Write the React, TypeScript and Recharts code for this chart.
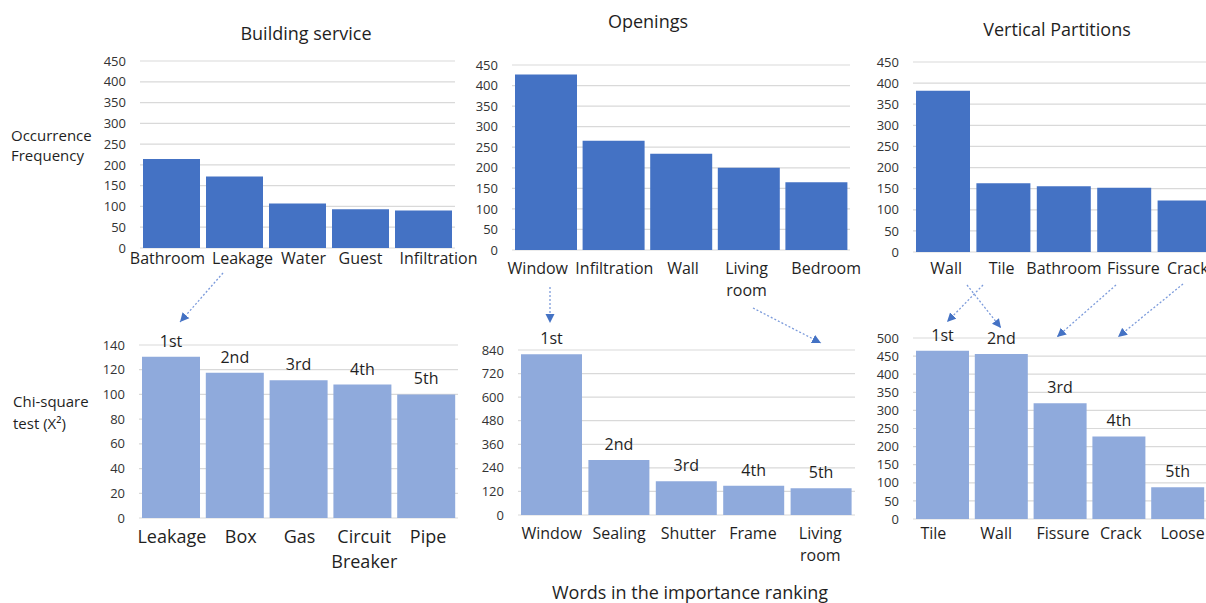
import React from 'react';
import { BarChart, Bar, XAxis, YAxis, CartesianGrid, LabelList, Text } from 'recharts';

// ---- Data ----
const bsCats = ['Bathroom', 'Leakage', 'Water', 'Guest', 'Infiltration'];
const bsFreq = [214, 172, 107, 93, 90];
const opCats = ['Window', 'Infiltration', 'Wall', 'Living room', 'Bedroom'];
const opFreq = [427, 266, 234, 200, 165];
const vpCats = ['Wall', 'Tile', 'Bathroom', 'Fissure', 'Crack'];
const vpFreq = [382, 163, 156, 152, 122];

const bsChiCats = ['Leakage', 'Box', 'Gas', 'Circuit Breaker', 'Pipe'];
const bsChi = [130.5, 117.5, 111.5, 108, 100];
const opChiCats = ['Window', 'Sealing', 'Shutter', 'Frame', 'Living room'];
const opChi = [818, 280, 172, 149, 136];
const vpChiCats = ['Tile', 'Wall', 'Fissure', 'Crack', 'Loose'];
const vpChi = [465, 456, 320, 228, 88];

const ranks = ['1st', '2nd', '3rd', '4th', '5th'];

const freqTicks = [0, 50, 100, 150, 200, 250, 300, 350, 400, 450];
const bsChiTicks = [0, 20, 40, 60, 80, 100, 120, 140];
const opChiTicks = [0, 120, 240, 360, 480, 600, 720, 840];
const vpChiTicks = [0, 50, 100, 150, 200, 250, 300, 350, 400, 450, 500];

const DARK = '#4472C4';
const LIGHT = '#8FAADC';
const TXT = '#1f1f1f';

type PanelProps = {
  cats: string[];
  vals: number[];
  withRanks?: boolean;
  color: string;
  plotX: number;
  plotW: number;
  plotTop: number;
  plotH: number;
  ticks: number[];
  xFont: number;
  xMargin: number;
  xLine: number;
  tickDx?: number[];
};

const YW = 60;
const T = 40;
const XH = 70;
const RP = 40;

function Panel(p: PanelProps) {
  const data = p.cats.map((c, i) => ({ name: c, value: p.vals[i], rank: ranks[i] }));
  const band = p.plotW / p.cats.length;
  const renderTick = (props: any) => {
    const { x, y, payload, index } = props;
    const dx = p.tickDx ? p.tickDx[index] || 0 : 0;
    return (
      <Text
        x={x + dx}
        y={y}
        width={band - 2}
        textAnchor="middle"
        verticalAnchor="start"
        lineHeight={p.xLine}
        fontSize={p.xFont}
        fill={TXT}
      >
        {payload.value}
      </Text>
    );
  };
  const top = p.ticks[p.ticks.length - 1];
  return (
    <div style={{ position: 'absolute', left: p.plotX - YW, top: p.plotTop - T }}>
      <BarChart
        width={YW + p.plotW + RP}
        height={T + p.plotH + XH}
        data={data}
        margin={{ top: T, right: RP, bottom: 0, left: 0 }}
        barCategoryGap={3}
      >
        <CartesianGrid vertical={false} stroke="#D9D9D9" strokeWidth={1.2} />
        <XAxis
          dataKey="name"
          interval={0}
          axisLine={false}
          tickLine={false}
          tickSize={0}
          tickMargin={p.xMargin}
          height={XH}
          tick={renderTick}
        />
        <YAxis
          type="number"
          domain={[0, top]}
          ticks={p.ticks}
          interval={0}
          width={YW}
          axisLine={false}
          tickLine={false}
          tickSize={0}
          tickMargin={14}
          tick={{ fontSize: 13, fill: '#333' }}
        />
        <Bar dataKey="value" fill={p.color} isAnimationActive={false}>
          {p.withRanks ? (
            <LabelList dataKey="rank" position="top" offset={10} fontSize={16} fill={TXT} />
          ) : null}
        </Bar>
      </BarChart>
    </div>
  );
}

const arrows = [
  [223, 273, 180, 322],
  [550, 287, 550, 323],
  [753, 308, 821, 343],
  [983, 285, 947, 322],
  [967, 285, 1001, 328],
  [1116, 285, 1057, 337],
  [1183, 284, 1118, 337],
];

export default function App() {
  return (
    <div
      style={{
        position: 'absolute',
        left: 0,
        top: 0,
        width: 1206,
        height: 603,
        overflow: 'hidden',
        background: '#fff',
        fontFamily: '"Open Sans", sans-serif',
      }}
    >
      <Panel cats={bsCats} vals={bsFreq} color={DARK} plotX={140} plotW={315} plotTop={61} plotH={187} ticks={freqTicks} xFont={16} xMargin={5} xLine={22} tickDx={[-4, 8, 6, 0, 15]} />
      <Panel cats={opCats} vals={opFreq} color={DARK} plotX={512} plotW={338} plotTop={65} plotH={185} ticks={freqTicks} xFont={16} xMargin={13} xLine={22} tickDx={[-8, 1, 2, -2, 10]} />
      <Panel cats={vpCats} vals={vpFreq} color={DARK} plotX={913} plotW={302} plotTop={62} plotH={190} ticks={freqTicks} xFont={16} xMargin={11} xLine={22} tickDx={[3, -2, 0, 9, 3]} />
      <Panel cats={bsChiCats} vals={bsChi} withRanks color={LIGHT} plotX={139} plotW={319} plotTop={345} plotH={173} ticks={bsChiTicks} xFont={18} xMargin={12} xLine={25} tickDx={[1, 6, 1, 2, 2]} />
      <Panel cats={opChiCats} vals={opChi} withRanks color={LIGHT} plotX={518} plotW={337} plotTop={350} plotH={165} ticks={opChiTicks} xFont={16} xMargin={13} xLine={22} tickDx={[0, 0, 2, -1, -1]} />
      <Panel cats={vpChiCats} vals={vpChi} withRanks color={LIGHT} plotX={913} plotW={294} plotTop={338} plotH={181} ticks={vpChiTicks} xFont={16} xMargin={9} xLine={22} tickDx={[-9, -5, 3, 2, 5]} />

      <svg
        width={1206}
        height={603}
        style={{ position: 'absolute', left: 0, top: 0, pointerEvents: 'none' }}
      >
        <defs>
          <marker id="ah" markerUnits="userSpaceOnUse" markerWidth={10} markerHeight={10} refX={9} refY={5} orient="auto">
            <path d="M0,0.5 L9,5 L0,9.5 z" fill={DARK} />
          </marker>
        </defs>
        {arrows.map((a, i) => (
          <line
            key={i}
            x1={a[0]}
            y1={a[1]}
            x2={a[2]}
            y2={a[3]}
            stroke="#7C9BDB"
            strokeWidth={1.3}
            strokeDasharray="2 2"
            markerEnd="url(#ah)"
          />
        ))}
        <g fill={TXT} fontSize={18}>
          <text x={306} y={40} textAnchor="middle">Building service</text>
          <text x={648} y={28} textAnchor="middle">Openings</text>
          <text x={1057} y={36} textAnchor="middle">Vertical Partitions</text>
          <text x={690} y={599} textAnchor="middle">Words in the importance ranking</text>
        </g>
        <g fill={TXT} fontSize={15}>
          <text x={11} y={140.5}>Occurrence</text>
          <text x={11} y={161}>Frequency</text>
          <text x={13} y={407}>Chi-square</text>
          <text x={13} y={429}>test (X²)</text>
        </g>
      </svg>
    </div>
  );
}
